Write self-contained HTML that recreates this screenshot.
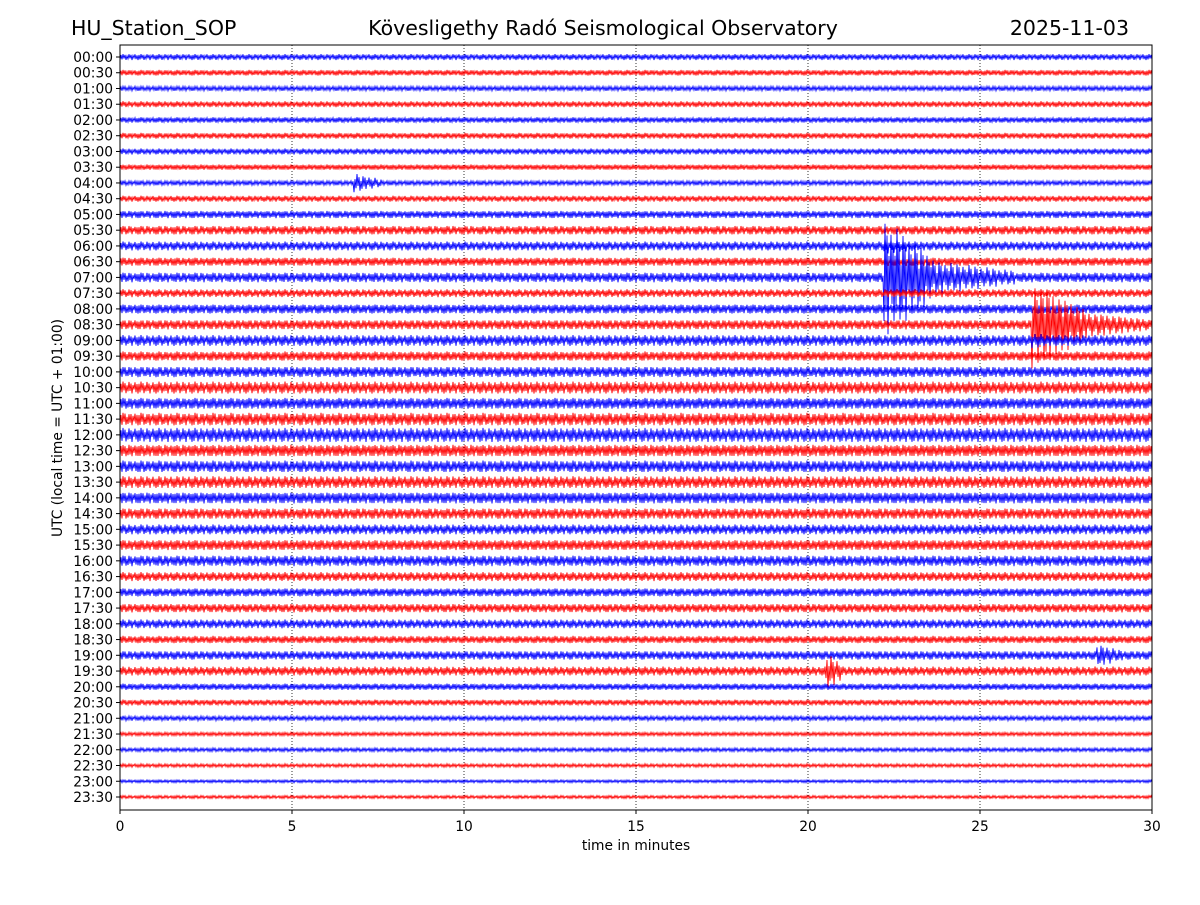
<!DOCTYPE html>
<html><head><meta charset="utf-8"><style>
body{margin:0;background:#fff}
svg text{font-family:"DejaVu Sans","Liberation Sans",sans-serif}
</style></head><body>
<svg id="c" width="1200" height="900" viewBox="0 0 1200 900" xmlns="http://www.w3.org/2000/svg">
<rect width="1200" height="900" fill="#fff"/>
<text x="71" y="35" font-size="20.5">HU_Station_SOP</text>
<text x="603" y="35" font-size="20.5" text-anchor="middle">Kövesligethy Radó Seismological Observatory</text>
<text x="1129" y="35" font-size="20.5" text-anchor="end">2025-11-03</text>
<g id="grid"></g>
<g id="traces"></g>
<g id="axes"></g>
<rect x="120" y="45" width="1032" height="765" fill="none" stroke="#000" stroke-width="1"/>
<text x="636" y="850" font-size="13.8" text-anchor="middle">time in minutes</text>
<text transform="translate(62,428) rotate(-90)" font-size="13.8" text-anchor="middle">UTC (local time = UTC + 01:00)</text>
</svg>
<script>
// base noise half-amplitude (px) per 30-min row
const rowAmps=[3,3,2.5,3,3,3,3,3,2.5,3,4,4.5,4.5,4.5,5,4,5,5,5.5,5,5.5,6,6,6.5,7,6.5,6,6,6,5.5,5,5.5,5.5,4.5,4.5,4.5,4.5,4,4.5,4.5,3.5,3,2.5,2,2,1.8,1.6,1.6];
// events: row index, start minute, end minute, peak amplitude
const eventRows=[14,14,17,17,8,38,39,12,18,19];
const eventStart=[22.2,23.6,26.5,28,6.8,28.4,20.5,22.2,26.5,26.5];
const eventEnd=[23.6,26,28,30,7.6,29.2,21,23.5,27.4,27.4];
const eventAmp=[62,18,46,14,10,12,20,8,8,6];
const xTicks=[0,5,10,15,20,25,30];
const x0=120,x1=1152,y0=57,dy=(797-57)/47;
const X=m=>x0+m*(x1-x0)/30, Y=r=>y0+r*dy;
const ns="http://www.w3.org/2000/svg";
const grid=document.getElementById('grid'),tr=document.getElementById('traces'),ax=document.getElementById('axes');
xTicks.forEach(t=>{
 if(t>0&&t<30){const l=document.createElementNS(ns,'line');
 
 
 l.setAttribute('x1',X(t));l.setAttribute('x2',X(t));l.setAttribute('y1',45);l.setAttribute('y2',810);
 l.setAttribute('stroke','#000');l.setAttribute('stroke-width','0.8');l.setAttribute('stroke-dasharray','1,2');grid.appendChild(l);}
 const k=document.createElementNS(ns,'line');
 
 
 k.setAttribute('x1',X(t));k.setAttribute('x2',X(t));k.setAttribute('y1',810);k.setAttribute('y2',814);k.setAttribute('stroke','#000');ax.appendChild(k);
 const s=document.createElementNS(ns,'text');
 
 
 s.setAttribute('x',X(t));s.setAttribute('y',831);s.setAttribute('font-size','13.8');s.setAttribute('text-anchor','middle');s.textContent=t;ax.appendChild(s);
});
const pat=[1,-0.7,0.9,-1,0.5,-0.85,0.95,-0.4,0.75,-0.95,0.6,-0.8,1,-0.55,0.35,-0.9,0.8,-0.65];
rowAmps.forEach((a,r)=>{
 const hh=Math.floor(r/2),mm=r%2?'30':'00';
 const lab=(hh<10?'0':'')+hh+':'+mm;
 const s=document.createElementNS(ns,'text');
 
 
 s.setAttribute('x',113);s.setAttribute('y',Y(r)+5);s.setAttribute('font-size','13.8');s.setAttribute('text-anchor','end');s.textContent=lab;ax.appendChild(s);
 const k=document.createElementNS(ns,'line');
 
 
 k.setAttribute('x1',116);k.setAttribute('x2',120);k.setAttribute('y1',Y(r));k.setAttribute('y2',Y(r));k.setAttribute('stroke','#000');ax.appendChild(k);
 let d='';const yc=Y(r);let i=0;
 for(let x=x0;x<=x1;x+=1,i++){
  const m=(x-x0)/(x1-x0)*30;let amp=a;
  eventRows.forEach((er,j)=>{if(er===r&&m>=eventStart[j]&&m<=eventEnd[j]){
   const f=1-0.6*(m-eventStart[j])/(eventEnd[j]-eventStart[j]);amp=Math.max(amp,eventAmp[j]*f*(0.4+0.6*Math.abs(pat[(i*7)%pat.length])));}});
  const v=amp*pat[i%pat.length]*(0.7+0.3*Math.abs(pat[(i*5+r)%pat.length]));
  d+=(i?'L':'M')+x.toFixed(1)+' '+(yc+v).toFixed(1);
 }
 const p=document.createElementNS(ns,'path');
 
 
 p.setAttribute('d',d);p.setAttribute('fill','none');p.setAttribute('stroke',r%2?'#ff0000':'#0000ff');p.setAttribute('stroke-width','0.9');
 tr.appendChild(p);
});
</script>
</body></html>
